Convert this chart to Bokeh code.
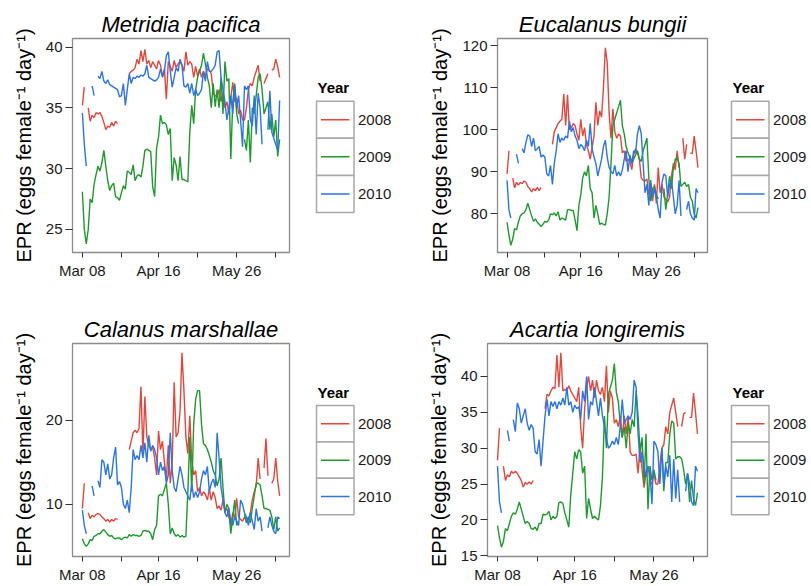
import numpy as np
from bokeh.plotting import figure
from bokeh.layouts import row
from bokeh.models import Range1d, FixedTicker, ColumnDataSource
from bokeh.embed import file_html
from bokeh.resources import INLINE
from bokeh.core.properties import value

N = None
days = list(range(102))
years = ["2008", "2009", "2010"]
colors = ["#E5463B", "#1D9A2E", "#2A73EE"]
tick_days = [0, 20, 39, 59, 79, 99]
tick_labels = ["Mar 08", "", "Apr 16", "", "May 26", ""]
ylabel = "EPR (eggs female\u207b\u00b9 day\u207b\u00b9)"

species = ["Metridia pacifica", "Eucalanus bungii", "Calanus marshallae", "Acartia longiremis"]

# Metridia pacifica
m08 = [35.2, 36.7, N, 35.0, 33.9, 34.4, 34.2, 34.6, 34.5, 34.6,
       34.3, 33.8, 33.2, 33.5, 33.4, 33.8, 33.5, 33.9, 33.7, N,
       N, N, N, N, 37.8, 38.0, 38.1, 38.3, 39.0, 38.6,
       39.7, 38.8, 39.8, 38.6, 38.9, 38.3, 38.8, 38.5, 38.2, 38.9,
       38.5, 37.6, 38.2, 35.7, 38.8, 38.4, 38.0, 38.9, 38.3, 38.6,
       38.8, 38.5, 38.0, 39.6, 38.5, 38.8, 38.6, 37.5, 38.4, 37.6,
       38.2, 37.5, 38.0, 37.6, 38.2, 38.1, 37.8, 36.2, 36.0, 35.9,
       36.5, 35.5, 36.3, 35.0, 35.5, 34.5, 35.8, 37.1, 35.5, 35.8,
       34.5, 34.8, 34.0, 34.0, 35.0, 36.5, 37.0, 36.8, 37.5, 38.0,
       38.5, 37.2, N, 37.0, 37.4, 37.8, N, 38.1, 38.2, 39.0,
       38.4, 37.5]
m09 = [28.1, 25.0, 23.8, 25.0, 27.5, 27.2, 28.7, 29.5, 30.2, 29.8,
       30.5, 31.5, 30.2, 29.0, 28.2, 28.6, 28.8, 27.7, 27.6, 27.4,
       28.0, 28.6, 28.3, 29.8, 29.7, 29.5, 30.3, 29.0, 29.4, 29.5,
       29.3, 30.2, 31.5, 31.6, 31.5, 31.4, 28.5, 27.7, 31.7, 32.6,
       34.4, 33.7, 33.8, 33.6, 32.8, 33.3, 29.0, 30.9, 30.3, 29.0,
       31.0, 29.1, 29.1, 29.0, 28.9, 33.0, 35.2, 33.7, 36.5, 37.5,
       38.0, 38.5, 39.5, 38.6, 37.5, 36.8, 35.0, 37.0, 35.1, 36.5,
       35.0, 37.5, 34.5, 38.8, 37.2, 37.4, 30.8, 35.5, 37.0, 34.5,
       33.7, N, N, 32.4, 31.5, 34.0, 30.5, 35.0, 34.5, 36.0,
       37.5, 37.8, 36.5, 34.5, 35.0, 35.5, 33.2, 34.5, 32.6, 34.0,
       31.0, 32.4]
m10 = [34.6, 32.0, 30.2, N, N, 36.8, 36.0, N, 37.6, 37.4,
       38.0, 37.2, 37.0, 37.3, 36.9, 36.8, 36.7, 36.6, 36.5, 35.9,
       36.0, 37.0, 35.2, 36.5, 37.8, 37.0, 37.5, 37.4, 37.6, 37.5,
       37.7, 37.6, 37.8, 38.5, 37.5, 37.4, 37.3, 37.2, 37.3, 37.5,
       38.2, 37.5, 38.0, 39.3, 39.6, 38.0, 36.7, 37.5, 38.3, 38.0,
       39.0, 38.5, 36.8, 36.7, 37.0, 36.2, 37.0, 36.0, 36.5, 36.0,
       36.2, 36.5, 38.0, 37.2, 38.8, 38.0, 38.0, 38.2, 38.5, 39.6,
       39.7, 37.5, 36.5, 35.5, 34.0, 35.0, 36.0, 34.5, 36.8, 35.0,
       36.0, 34.0, 31.8, 36.8, 36.5, 36.8, 34.0, 33.5, 36.0, 32.8,
       36.2, 35.0, 32.0, N, N, 33.2, 36.4, 33.0, 32.5, 32.0,
       31.5, 35.6]

# Eucalanus bungii
e08 = [89.5, 95.0, N, 88.5, 86.2, 87.5, 86.8, 87.5, 87.2, 87.8,
       87.5, 86.5, 86.0, 85.2, 86.0, 85.5, 86.3, 85.5, 86.3, N,
       N, N, N, N, 96.5, 99.5, 100.5, 101.5, 102.0, 102.5,
       108.5, 101.0, 108.3, 100.0, 100.5, 101.5, 101.0, 99.0, 97.5, 102.5,
       98.5, 100.5, 96.5, 95.0, 93.0, 95.8, 98.5, 106.5, 101.0, 104.5,
       103.0, 110.0, 119.5, 116.0, 104.0, 98.0, 105.0, 99.5, 98.0, 99.0,
       98.5, 94.5, 95.0, 92.5, 93.0, 92.5, 90.5, 94.0, 95.5, 94.5,
       93.0, 88.5, 88.0, 87.8, 88.3, 84.5, 86.0, 83.0, 87.0, 82.5,
       91.0, 85.0, 87.0, 84.0, 83.5, 82.8, 84.0, 89.0, 92.0, 90.5,
       95.0, 91.0, N, 98.0, 93.0, 96.5, N, 94.5, 94.3, 98.5,
       95.0, 91.0]
e09 = [78.0, 75.0, 72.5, 74.0, 76.5, 76.2, 78.0, 79.5, 80.0, 80.2,
       81.0, 82.5, 81.0, 79.5, 78.2, 78.8, 78.0, 77.5, 77.0, 77.5,
       78.2, 78.0, 78.5, 80.0, 79.8, 80.2, 79.5, 80.5, 78.5, 79.0,
       78.8, 78.5, 81.0, 81.0, 80.8, 80.8, 78.5, 76.0, 82.0, 84.5,
       88.5, 90.0, 89.0, 91.5, 86.0, 85.0, 79.0, 82.0, 80.0, 77.5,
       77.8, 77.5, 77.3, 80.0, 84.0, 92.0, 101.0, 102.5, 104.0, 105.5,
       107.0, 101.0, 99.0, 96.0, 94.5, 93.5, 92.0, 93.0, 94.0, 95.0,
       93.0, 92.5, 95.0, 96.5, 98.0, 88.5, 83.0, 86.0, 86.5, 84.5,
       83.5, N, N, 86.0, 81.0, 85.0, 89.0, 86.0, 91.0, 93.0,
       93.3, 92.0, 86.5, 87.0, 87.5, 86.5, 87.0, 84.0, 83.0, 80.0,
       79.0, 81.5]
e10 = [88.0, 81.0, 79.0, N, N, 94.2, 92.0, N, 95.5, 94.5,
       97.0, 98.8, 98.5, 96.0, 98.0, 95.0, 95.5, 96.0, 93.5, 94.0,
       93.5, 89.5, 89.0, 91.5, 87.0, 92.0, 95.0, 99.0, 97.0, 98.0,
       97.5, 98.5, 98.0, 102.0, 99.5, 100.5, 98.5, 97.5, 95.5, 96.5,
       96.0, 95.0, 97.5, 96.0, 101.5, 95.5, 93.5, 92.0, 89.0, 91.0,
       93.0, 96.0, 97.5, 93.5, 91.0, 90.0, 89.5, 91.5, 89.0, 90.0,
       89.0, 90.5, 93.0, 95.0, 90.0, 94.0, 92.0, 95.0, 94.5, 99.0,
       101.0, 99.0, 92.0, 85.0, 87.0, 82.0, 88.0, 84.0, 86.0, 84.0,
       81.0, 79.0, 87.5, 89.5, 89.0, 84.0, 87.0, 88.0, 84.0, 80.0,
       82.0, 88.0, 79.5, N, N, 81.0, 83.0, 80.0, 79.0, 78.5,
       86.0, 85.0]

# Calanus marshallae
c08 = [9.5, 12.5, N, 9.0, 8.3, 8.7, 8.5, 8.8, 8.9, 8.8,
       8.5, 8.3, 8.0, 8.2, 7.9, 8.2, 8.0, 8.3, 8.2, N,
       N, N, N, N, 16.5, 17.5, 18.5, 18.8, 18.5, 19.0,
       24.0, 16.0, 22.8, 18.0, 17.0, 16.5, 16.8, 15.5, 13.5, 18.7,
       16.5, 17.5, 15.0, 13.0, 17.0, 12.5, 15.0, 24.5, 18.0, 18.5,
       21.0, 28.0, 23.5, 18.0, 16.0, 20.5, 15.2, 13.5, 14.0, 11.5,
       12.0, 11.0, 11.5, 11.2, 10.5, 11.8, 10.5, 11.5, 10.8, 9.5,
       9.8, 9.3, 10.5, 9.2, 9.5, 8.5, 7.5, 9.0, 8.3, 10.7,
       8.5, 8.2, 8.0, 8.5, 8.0, 8.2, 9.0, 10.5, 11.5, 12.2,
       15.5, 13.0, N, 14.3, 17.8, 13.4, N, 12.5, 13.0, 15.5,
       12.8, 11.0]
c09 = [5.9, 5.3, 5.0, 5.3, 5.8, 5.7, 6.2, 6.3, 6.5, 6.5,
       6.8, 7.0, 6.7, 6.4, 6.2, 6.3, 6.0, 5.9, 6.0, 6.0,
       5.8, 6.0, 6.1, 6.0, 6.4, 6.2, 6.4, 6.3, 6.3, 6.2,
       6.3, 6.8, 6.9, 6.8, 6.8, 6.5, 5.8, 7.0, 7.5, 11.0,
       11.2, 11.0, 11.8, 12.5, 10.0, 6.5, 7.2, 6.5, 6.2, 6.4,
       6.1, 6.3, 6.1, 6.2, 11.5, 18.0, 11.5, 19.5, 22.5, 23.5,
       23.5, 19.5, 17.2, 17.0, 16.5, 15.8, 15.0, 14.0, 13.5, 12.2,
       13.0, 15.5, 12.0, 9.0, 10.0, 9.5, 6.5, 8.5, 10.5, 7.5,
       8.0, N, N, 8.8, 7.8, 8.5, 7.8, 9.5, 11.0, 12.5,
       12.5, 12.3, 11.0, 9.5, 9.5, 9.4, 9.3, 8.5, 7.0, 8.5,
       6.8, 7.2]
c10 = [9.3, 7.5, 6.5, N, N, 12.2, 11.0, N, 12.8, 12.0,
       15.3, 15.0, 13.5, 14.8, 13.0, 13.5, 15.5, 16.8, 12.3, 12.7,
       12.0, 10.0, 9.5, 10.5, 9.0, 12.0, 16.5, 15.3, 15.8, 15.3,
       17.0, 15.5, 17.3, 15.0, 18.2, 16.3, 17.0, 16.5, 15.5, 13.5,
       15.0, 14.0, 14.5, 12.5, 13.5, 18.5, 14.0, 12.0, 11.5, 13.0,
       14.5, 13.5, 12.0, 11.5, 11.0, 10.5, 12.5, 10.8, 11.5, 10.8,
       11.5, 13.0, 14.0, 13.5, 14.5, 11.5, 12.5, 13.0, 12.0, 18.5,
       15.5, 12.0, 10.5, 9.0, 8.5, 9.5, 8.0, 7.5, 8.5, 8.0,
       7.5, 10.5, 10.0, 9.0, 8.5, 7.5, 9.0, 8.0, 7.0, 9.5,
       8.0, 8.5, 6.8, N, N, 7.2, 8.5, 7.5, 6.8, 6.5,
       8.5, 8.3]

# Acartia longiremis
a08 = [28.3, 32.8, N, 27.5, 25.5, 26.3, 26.0, 26.8, 26.5, 26.8,
       26.5, 26.0, 25.5, 24.6, 25.2, 25.0, 25.3, 25.0, 25.5, N,
       N, N, N, N, 35.5, 37.5, 37.3, 38.0, 38.5, 38.3,
       43.0, 38.5, 43.3, 38.0, 38.2, 38.0, 38.7, 38.0, 37.5, 37.0,
       36.5, 38.5, 33.0, 30.0, 35.5, 38.5, 40.0, 38.0, 39.5, 37.0,
       39.5, 38.0, 37.5, 38.5, 36.5, 41.5, 35.0, 38.0, 37.0, 33.5,
       34.0, 33.0, 34.5, 31.5, 34.5, 32.0, 34.5, 29.5, 29.0, 29.0,
       29.2, 26.5, 30.5, 27.0, 24.5, 26.5, 27.5, 25.5, 25.0, 26.5,
       25.0, 25.0, 27.5, 30.0, 30.5, 33.0, 32.0, 35.0, 36.0, 37.0,
       35.0, 33.0, N, 33.0, 34.8, 35.0, N, 34.3, 34.3, 37.7,
       35.0, 32.0]
a09 = [19.2, 17.5, 16.2, 17.0, 18.8, 18.5, 19.5, 20.5, 21.0, 20.8,
       21.5, 22.5, 21.5, 20.5, 19.5, 19.8, 19.5, 18.8, 18.7, 19.0,
       18.5, 19.5, 19.5, 20.8, 20.7, 20.8, 21.2, 20.0, 20.5, 20.2,
       20.5, 22.4, 22.5, 22.3, 21.0, 20.0, 19.0, 23.5, 26.5, 29.5,
       28.5, 29.8, 29.5, 26.5, 27.5, 20.2, 23.0, 21.5, 20.2, 20.5,
       20.2, 20.0, 22.0, 26.0, 34.5, 30.0, 37.5, 38.5, 39.5, 41.8,
       37.8, 36.5, 33.5, 31.5, 33.0, 30.0, 33.5, 32.0, 34.0, 33.0,
       38.0, 34.5, 29.5, 31.5, 25.0, 32.0, 21.5, 27.5, 25.5, 27.0,
       25.5, N, N, 30.0, 24.0, 28.0, 28.0, 32.0, 33.8, 33.5,
       28.5, 28.8, 28.8, 28.5, 27.0, 25.0, 26.5, 22.5, 25.5, 23.0,
       22.0, 23.8]
a10 = [27.5, 22.5, 21.0, N, N, 32.5, 31.0, N, 34.0, 32.3,
       36.3, 35.5, 33.5, 34.5, 35.5, 33.5, 32.5, 33.3, 32.8, 29.5,
       29.2, 31.2, 27.5, 31.0, 34.5, 36.8, 34.5, 36.5, 35.8, 36.5,
       35.5, 36.5, 36.0, 37.0, 36.0, 38.5, 36.0, 36.5, 35.0, 36.0,
       35.5, 35.8, 34.0, 38.0, 36.5, 40.0, 34.0, 36.5, 36.0, 38.5,
       36.5, 34.5, 37.0, 34.5, 33.0, 31.5, 30.0, 30.3, 31.0, 30.5,
       31.5, 30.5, 33.0, 36.8, 33.5, 34.0, 34.5, 34.0, 35.0, 39.5,
       38.5, 32.0, 28.0, 29.5, 27.5, 26.0, 27.5, 26.5, 22.2, 31.0,
       30.5, 29.5, 25.0, 30.0, 24.8, 27.5, 26.0, 29.0, 22.5, 28.5,
       23.0, 27.0, 22.5, N, N, 24.0, 26.5, 25.0, 22.5, 22.0,
       27.5, 26.8]

y_ranges = [(23.1, 40.7), (70.8, 121.7), (3.8, 29.1), (14.9, 44.6)]
y_ticks = [[25, 30, 35, 40], [80, 90, 100, 110, 120], [10, 20], [15, 20, 25, 30, 35, 40]]

FONT = "Liberation Sans"


def panel(title, series, yr, yt, width, height, bl, br, bt, bb):
    p = figure(width=width, height=height, output_backend="svg", toolbar_location=None,
               x_range=Range1d(-5.05, 106.05), y_range=Range1d(*yr),
               min_border_left=bl, min_border_right=br, min_border_top=bt, min_border_bottom=bb,
               title=title)
    for ys, c in zip(series, colors):
        src = ColumnDataSource(dict(x=days, y=np.array(ys, dtype=float)))
        p.line("x", "y", source=src, color=c, line_width=1.4)
    t = p.title
    t.text_font = FONT
    t.text_font_style = "italic"
    t.text_font_size = "22px"
    t.text_color = "#000000"
    t.align = "center"
    t.standoff = 4
    p.xaxis.ticker = FixedTicker(ticks=tick_days)
    p.xaxis.major_label_overrides = dict(zip(tick_days, tick_labels))
    p.yaxis.ticker = FixedTicker(ticks=yt)
    p.yaxis.axis_label = ylabel
    p.yaxis.axis_label_text_font = FONT
    p.yaxis.axis_label_text_font_style = "normal"
    p.yaxis.axis_label_text_font_size = "20px"
    p.yaxis.axis_label_text_color = "#000000"
    p.yaxis.axis_label_standoff = 8
    p.yaxis.major_tick_out = 7
    p.xaxis.major_tick_out = 5
    p.yaxis.major_label_standoff = 3
    p.xaxis.major_label_standoff = 4
    for ax in (p.xaxis, p.yaxis):
        ax.major_tick_in = 0
        ax.minor_tick_line_color = None
        ax.axis_line_color = None
        ax.major_tick_line_color = "#333333"
        ax.major_label_text_font = FONT
        ax.major_label_text_font_size = "15px"
        ax.major_label_text_color = "#1a1a1a"
    p.xgrid.visible = False
    p.ygrid.visible = False
    p.outline_line_color = "#8c8c8c"
    p.outline_line_width = 1.3
    p.background_fill_color = "#ffffff"
    p.border_fill_color = "#ffffff"
    return p


def legend(x0, width, row_y0, height, bt, bb, box_left, box_top, kh):
    # the frame is given the same top/bottom borders as its panel; data units = page pixels
    frame_top = row_y0 + bt
    frame_bottom = row_y0 + height - bb
    kw = 37.5
    p = figure(width=width, height=height, output_backend="svg", toolbar_location=None,
               x_range=Range1d(x0, x0 + width), y_range=Range1d(frame_bottom, frame_top),
               min_border_left=0, min_border_right=0,
               min_border_top=bt, min_border_bottom=bb,
               x_axis_type=None, y_axis_type=None, title=None)
    p.xgrid.visible = False
    p.ygrid.visible = False
    p.outline_line_color = None
    p.border_fill_color = "#ffffff"
    tops = [box_top + kh * i for i in range(len(years))]
    p.quad(left=[box_left] * 3, right=[box_left + kw] * 3,
           top=tops, bottom=[t + kh for t in tops],
           fill_color="#ffffff", line_color="#a8a8a8", line_width=1.5)
    mids = [t + kh / 2 for t in tops]
    p.segment(x0=[box_left + 4.5] * 3, x1=[box_left + kw - 4.5] * 3, y0=mids, y1=mids,
              line_color=colors, line_width=1.5)
    p.text(x=[box_left + kw + 4] * 3, y=mids, text=years,
           text_font=value(FONT), text_font_size="15px", text_color="#1a1a1a",
           text_align="left", text_baseline="middle")
    p.text(x=[box_left + 1], y=[box_top - 13.5], text=["Year"],
           text_font=value(FONT), text_font_size="15px", text_font_style="bold",
           text_color="#000000", text_align="left", text_baseline="middle")
    return p


H1, H2 = 283, 302
p1 = panel(species[0], [m08, m09, m10], y_ranges[0], y_ticks[0], 300, H1, 72, 11, 38, 31)
l1 = legend(300, 100, 0, H1, 38, 31, 316, 100.7, 37.1)
p2 = panel(species[1], [e08, e09, e10], y_ranges[1], y_ticks[1], 318, H1, 97, 11, 38, 31)
l2 = legend(718, 92, 0, H1, 38, 31, 731, 100.7, 37.1)
p3 = panel(species[2], [c08, c09, c10], y_ranges[2], y_ticks[2], 300, H2, 72, 11, 60, 27)
l3 = legend(300, 100, H1, H2, 60, 27, 316, 405.7, 36.7)
p4 = panel(species[3], [a08, a09, a10], y_ranges[3], y_ticks[3], 318, H2, 87, 11, 60, 27)
l4 = legend(718, 92, H1, H2, 60, 27, 731, 405.7, 36.7)

top_row = row(p1, l1, p2, l2)
bottom_row = row(p3, l3, p4, l4)
open("out.html", "w").write(file_html([top_row, bottom_row], INLINE))
